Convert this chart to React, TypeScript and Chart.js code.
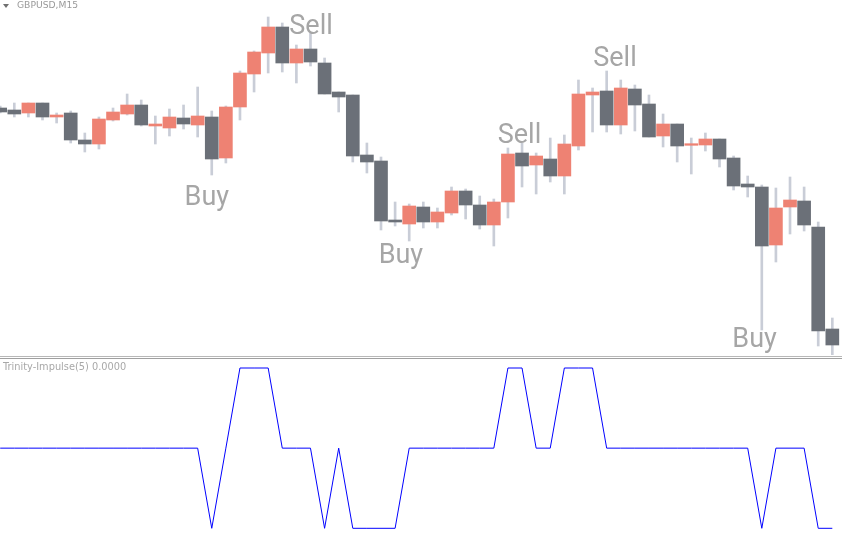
import React, { useEffect, useRef } from "react";
import { Chart, registerables } from "chart.js";

Chart.register(...registerables);

// ---- GBPUSD M15 candles (60 bars) ----
const opens = [
  1.29392, 1.2939, 1.29387, 1.29397, 1.29383, 1.29387, 1.2936, 1.29356, 1.2938, 1.29386,
  1.29395, 1.29374, 1.29372, 1.29382, 1.29375, 1.29383, 1.29342, 1.29393, 1.29426, 1.29447,
  1.29473, 1.29437, 1.29451, 1.29437, 1.29408, 1.29405, 1.29345, 1.29339, 1.2928, 1.29276,
  1.29293, 1.29278, 1.29287, 1.29309, 1.29295, 1.29275, 1.29298, 1.29347, 1.29335, 1.29341,
  1.29324, 1.29354, 1.29405, 1.29409, 1.29375, 1.29411, 1.29396, 1.29364, 1.29376, 1.29355,
  1.29355, 1.29361, 1.29342, 1.29316, 1.29313, 1.29255, 1.29293, 1.29299, 1.29273, 1.29171,
];
const highs = [
  1.29394, 1.29397, 1.29397, 1.29397, 1.29387, 1.29389, 1.29367, 1.29383, 1.29392, 1.29406,
  1.294, 1.29384, 1.29391, 1.29395, 1.29413, 1.29389, 1.29394, 1.29429, 1.29449, 1.29483,
  1.29477, 1.29455, 1.29467, 1.29442, 1.29408, 1.29405, 1.29357, 1.29343, 1.29298, 1.29296,
  1.29298, 1.29292, 1.29313, 1.29311, 1.29304, 1.29301, 1.29352, 1.29357, 1.29347, 1.29362,
  1.29365, 1.2942, 1.29412, 1.29429, 1.2942, 1.29415, 1.29405, 1.29386, 1.29376, 1.29362,
  1.29367, 1.29361, 1.29344, 1.29324, 1.29315, 1.29312, 1.29323, 1.29313, 1.29278, 1.29182,
];
const lows = [
  1.29387, 1.29383, 1.29383, 1.2938, 1.29377, 1.29357, 1.29348, 1.29351, 1.29379, 1.29385,
  1.29374, 1.29356, 1.29364, 1.29371, 1.29363, 1.29325, 1.29337, 1.2938, 1.29408, 1.29427,
  1.29428, 1.29417, 1.29434, 1.29406, 1.29388, 1.29338, 1.29327, 1.2927, 1.29274, 1.29259,
  1.29272, 1.29272, 1.29285, 1.29281, 1.29271, 1.29254, 1.29282, 1.29313, 1.29306, 1.29318,
  1.29306, 1.2935, 1.29368, 1.29368, 1.29366, 1.29369, 1.29363, 1.29353, 1.29338, 1.29326,
  1.29349, 1.29333, 1.2931, 1.29303, 1.2917, 1.29238, 1.29266, 1.29269, 1.29154, 1.29145,
];
const closes = [
  1.29388, 1.29386, 1.29397, 1.29383, 1.29385, 1.2936, 1.29356, 1.29381, 1.29388, 1.29395,
  1.29375, 1.29376, 1.29383, 1.29376, 1.29384, 1.29341, 1.29393, 1.29427, 1.29448, 1.29473,
  1.29437, 1.29451, 1.29438, 1.29406, 1.29403, 1.29344, 1.29338, 1.29279, 1.29278, 1.29294,
  1.29278, 1.29288, 1.29309, 1.29295, 1.29275, 1.29298, 1.29346, 1.29334, 1.29344, 1.29324,
  1.29356, 1.29406, 1.29408, 1.29375, 1.29412, 1.29395, 1.29363, 1.29376, 1.29354, 1.29356,
  1.29361, 1.29341, 1.29314, 1.29313, 1.29254, 1.29292, 1.293, 1.29275, 1.29169, 1.29155,
];

// ---- Trinity-Impulse(5) indicator values ----
const impulse = [
  0, 0, 0, 0, 0, 0, 0, 0, 0, 0,
  0, 0, 0, 0, 0, -1, 0, 1, 1, 1,
  0, 0, 0, -1, 0, -1, -1, -1, -1, 0,
  0, 0, 0, 0, 0, 0, 1, 1, 0, 0,
  1, 1, 1, 0, 0, 0, 0, 0, 0, 0,
  0, 0, 0, 0, -1, 0, 0, 0, -1, -1,
];

// ---- Buy / Sell signal labels (bar index, price at text baseline) ----
const signalLabels = ["Buy", "Sell", "Buy", "Sell", "Sell", "Buy"];
const signalIndex = [14.65, 22.04, 28.41, 36.82, 43.59, 53.49];
const signalPrice = [1.29295, 1.29466, 1.29237, 1.29357, 1.29434, 1.29153];

const symbolTitle = "GBPUSD,M15";
const indicatorTitle = "Trinity-Impulse(5) 0.0000";

const BULL = "#EE8273";
const BEAR = "#6B7078";
const WICK = "#C9CDD7";
const X_MIN = -0.0142;
const X_MAX = 59.686;

const signalTextPlugin = {
  id: "signalText",
  afterDatasetsDraw(chart: any) {
    const { ctx, scales } = chart;
    const x = scales.x;
    const y = scales.y;
    ctx.save();
    ctx.font = "27px Roboto";
    ctx.fillStyle = "#A6A6A6";
    ctx.textAlign = "center";
    ctx.textBaseline = "alphabetic";
    signalLabels.forEach((t, i) => {
      ctx.fillText(t, x.getPixelForValue(signalIndex[i]), y.getPixelForValue(signalPrice[i]));
    });
    ctx.restore();
  },
};

export default function App() {
  const priceRef = useRef<HTMLCanvasElement | null>(null);
  const indRef = useRef<HTMLCanvasElement | null>(null);

  useEffect(() => {
    const bodies = opens.map((o, i) => {
      let lo = Math.min(o, closes[i]);
      let hi = Math.max(o, closes[i]);
      if (hi - lo < 0.000016) {
        const mid = (hi + lo) / 2;
        lo = mid - 0.000008;
        hi = mid + 0.000008;
      }
      return { x: i, y: [lo, hi] };
    });
    const wicks = highs.map((h, i) => ({ x: i, y: [lows[i], h] }));
    const bodyColors = opens.map((o, i) => (closes[i] > o ? BULL : BEAR));

    const priceChart = new Chart(priceRef.current as HTMLCanvasElement, {
      type: "bar",
      data: {
        datasets: [
          {
            data: bodies as any,
            backgroundColor: bodyColors,
            borderWidth: 0,
            barThickness: 13,
            grouped: false,
            order: 0,
          } as any,
          {
            data: wicks as any,
            backgroundColor: WICK,
            borderWidth: 0,
            barThickness: 2,
            grouped: false,
            order: 1,
          } as any,
        ],
      },
      options: {
        animation: false,
        responsive: false,
        maintainAspectRatio: false,
        layout: { padding: 0 },
        plugins: { legend: { display: false }, tooltip: { enabled: false } },
        scales: {
          x: { type: "linear", min: X_MIN, max: X_MAX, display: false, offset: false },
          y: { type: "linear", min: 1.29145, max: 1.295, display: false },
        },
      },
      plugins: [signalTextPlugin],
    });

    const indChart = new Chart(indRef.current as HTMLCanvasElement, {
      type: "line",
      data: {
        datasets: [
          {
            data: impulse.map((v, i) => ({ x: i, y: v })),
            borderColor: "#0000FF",
            borderWidth: 1,
            pointRadius: 0,
            tension: 0,
            fill: false,
          },
        ],
      },
      options: {
        animation: false,
        responsive: false,
        maintainAspectRatio: false,
        layout: { padding: 0 },
        plugins: { legend: { display: false }, tooltip: { enabled: false } },
        scales: {
          x: { type: "linear", min: X_MIN, max: X_MAX, display: false },
          y: { type: "linear", min: -1.0836, max: 1.1123, display: false },
        },
      },
    });

    return () => {
      priceChart.destroy();
      indChart.destroy();
    };
  }, []);

  return (
    <div
      style={{
        position: "absolute",
        left: 0,
        top: 0,
        width: 842,
        height: 535,
        background: "#FFFFFF",
        overflow: "hidden",
      }}
    >
      <canvas
        ref={priceRef}
        width={842}
        height={355}
        style={{ position: "absolute", left: 0, top: 0, width: 842, height: 355 }}
      />
      <div style={{ position: "absolute", left: 0, top: 356, width: 842, height: 1, background: "#B8B8B8" }} />
      <div style={{ position: "absolute", left: 0, top: 358, width: 842, height: 1, background: "#A0A0A0" }} />
      <canvas
        ref={indRef}
        width={842}
        height={176}
        style={{ position: "absolute", left: 0, top: 359, width: 842, height: 176 }}
      />
      <div
        style={{
          position: "absolute",
          left: 3,
          top: 4,
          width: 0,
          height: 0,
          borderLeft: "3px solid transparent",
          borderRight: "3px solid transparent",
          borderTop: "4px solid #707070",
        }}
      />
      <div
        style={{
          position: "absolute",
          left: 17,
          top: -1,
          fontFamily: "'DejaVu Sans', sans-serif",
          fontSize: 9.2,
          lineHeight: "12px",
          color: "#9A9A9A",
          whiteSpace: "nowrap",
        }}
      >
        {symbolTitle}
      </div>
      <div
        style={{
          position: "absolute",
          left: 3,
          top: 361,
          fontFamily: "'DejaVu Sans', sans-serif",
          fontSize: 9.8,
          lineHeight: "12px",
          color: "#A8A8A8",
          whiteSpace: "nowrap",
        }}
      >
        {indicatorTitle}
      </div>
    </div>
  );
}
